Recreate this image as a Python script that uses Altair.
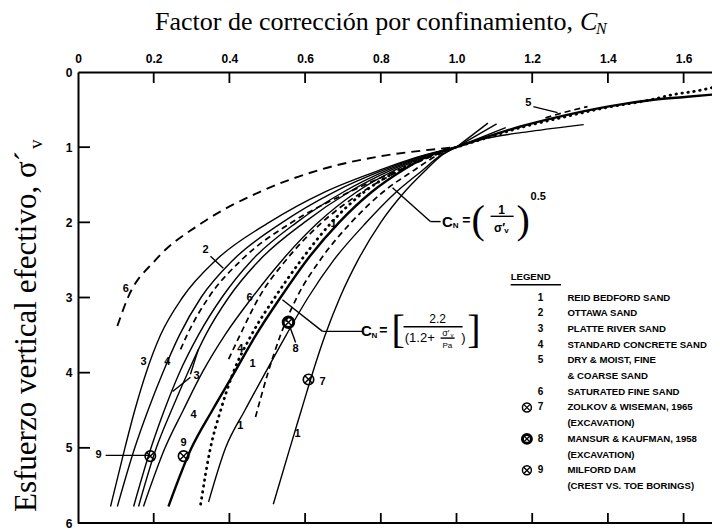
import altair as alt
import pandas as pd

W, H = 634, 451
XMAX = 1.675

# ---------------- curves: (C_N, sigma'_v) ----------------
cn_6 = [0.104, 0.132, 0.205, 0.330, 0.478, 0.640, 0.800, 0.920, 1.0]
sv_6 = [3.38, 3.00, 2.50, 2.00, 1.60, 1.30, 1.12, 1.04, 1.0]
cn_a = [0.086, 0.124, 0.150, 0.180, 0.218, 0.276, 0.365, 0.505, 0.650, 0.800, 0.905, 1.0]
sv_a = [5.78, 5.00, 4.50, 4.00, 3.50, 3.00, 2.50, 2.00, 1.60, 1.30, 1.12, 1.0]
cn_b = [0.104, 0.150, 0.185, 0.224, 0.268, 0.325, 0.410, 0.540, 0.675, 0.810, 0.910, 1.0]
sv_b = [5.78, 5.00, 4.50, 4.00, 3.50, 3.00, 2.50, 2.00, 1.60, 1.30, 1.12, 1.0]
cn_c = [0.147, 0.193, 0.228, 0.268, 0.318, 0.380, 0.460, 0.578, 0.700, 0.820, 0.915, 1.0]
sv_c = [5.78, 5.00, 4.50, 4.00, 3.50, 3.00, 2.50, 2.00, 1.60, 1.30, 1.12, 1.0]
cn_d = [0.160, 0.207, 0.247, 0.290, 0.337, 0.398, 0.480, 0.598, 0.715, 0.830, 0.918, 1.0]
sv_d = [5.78, 5.00, 4.50, 4.00, 3.50, 3.00, 2.50, 2.00, 1.60, 1.30, 1.12, 1.0]
cn_e = [0.173, 0.230, 0.278, 0.328, 0.388, 0.460, 0.540, 0.635, 0.735, 0.840, 0.922, 1.0]
sv_e = [5.78, 5.00, 4.50, 4.00, 3.50, 3.00, 2.50, 2.00, 1.60, 1.30, 1.12, 1.0]
cn_l = [0.271, 0.288, 0.345, 0.432, 0.565, 0.715, 0.850, 0.935, 1.0]
sv_l = [3.69, 3.50, 3.00, 2.50, 2.00, 1.60, 1.30, 1.12, 1.0]
cn_j = [0.398, 0.428, 0.478, 0.550, 0.645, 0.750, 0.855, 0.935, 1.0]
sv_j = [3.82, 3.50, 3.00, 2.50, 2.00, 1.60, 1.30, 1.12, 1.0]
cn_f = [0.239, 0.300, 0.355, 0.413, 0.470, 0.535, 0.605, 0.690, 0.775, 0.860, 0.925, 1.0]
sv_f = [5.78, 5.00, 4.50, 4.00, 3.50, 3.00, 2.50, 2.00, 1.60, 1.30, 1.12, 1.0]
cn_g = [0.324, 0.350, 0.377, 0.410, 0.458, 0.520, 0.590, 0.670, 0.755, 0.850, 0.925, 1.0,
        1.090, 1.169, 1.275, 1.399, 1.513, 1.573, 1.637, 1.690]
sv_g = [5.75, 5.00, 4.50, 4.00, 3.50, 3.00, 2.50, 2.00, 1.60, 1.30, 1.12, 1.0,
        0.86, 0.74, 0.61, 0.47, 0.37, 0.30, 0.25, 0.19]
cn_h = [0.345, 0.390, 0.441, 0.495, 0.550, 0.608, 0.676, 0.762, 0.840, 0.912, 0.955, 1.0]
sv_h = [5.72, 5.00, 4.50, 4.00, 3.50, 3.00, 2.50, 2.00, 1.60, 1.30, 1.12, 1.0]
cn_k = [0.469, 0.502, 0.535, 0.578, 0.640, 0.722, 0.805, 0.890, 0.945, 1.0]
sv_k = [4.59, 4.00, 3.50, 3.00, 2.50, 2.00, 1.60, 1.30, 1.12, 1.0]
cn_i = [0.516, 0.560, 0.590, 0.620, 0.653, 0.692, 0.740, 0.800, 0.862, 0.920, 0.958, 1.0]
sv_i = [5.75, 5.00, 4.50, 4.00, 3.50, 3.00, 2.50, 2.00, 1.60, 1.30, 1.12, 1.0]
cn_m = [1.0, 1.169, 1.275, 1.399, 1.521, 1.610, 1.676]
sv_m = [1.0, 0.725, 0.59, 0.46, 0.37, 0.33, 0.30]
cn_n = [1.0, 1.082, 1.196, 1.336]
sv_n = [1.0, 0.88, 0.79, 0.70]
cn_5 = [1.235, 1.275, 1.346]
sv_5 = [0.61, 0.55, 0.46]
cn_f1 = [1.0, 1.083]
sv_f1 = [1.0, 0.68]
cn_f2 = [1.0, 1.106]
sv_f2 = [1.0, 0.69]
cn_f3 = [1.0, 1.130]
sv_f3 = [1.0, 0.74]

curves = [
    ("s6", cn_6, sv_6, "dash6"), ("a", cn_a, sv_a, "solid"), ("b", cn_b, sv_b, "solid"),
    ("c", cn_c, sv_c, "solid"), ("d", cn_d, sv_d, "solid"), ("e", cn_e, sv_e, "solid"),
    ("l", cn_l, sv_l, "dash"), ("j", cn_j, sv_j, "dash"), ("f", cn_f, sv_f, "thick"),
    ("g", cn_g, sv_g, "dot"), ("h", cn_h, sv_h, "solid"), ("k", cn_k, sv_k, "dash"),
    ("i", cn_i, sv_i, "solid"), ("m", cn_m, sv_m, "thick"), ("n", cn_n, sv_n, "solid"),
    ("d5", cn_5, sv_5, "dash"), ("f1", cn_f1, sv_f1, "solid"), ("f2", cn_f2, sv_f2, "solid"),
    ("f3", cn_f3, sv_f3, "solid"),
]

# measured points (circled crosses)
pt_cn = [0.609, 0.556, 0.191, 0.279]
pt_sv = [4.09, 3.33, 5.11, 5.11]
pt_id = ["7", "8", "9", "9"]

# curve labels on the plot
lab_txt = ["6", "2", "6", "1", "3", "4", "3", "4", "4", "1", "1", "1", "7", "8", "9", "9", "5"]
lab_cn = [0.126, 0.337, 0.453, 0.675, 0.173, 0.236, 0.313, 0.305, 0.429, 0.461, 0.429, 0.580,
          0.646, 0.575, 0.279, 0.054, 1.190]
lab_sv = [2.89, 2.37, 3.00, 2.02, 3.86, 3.86, 4.05, 4.56, 3.69, 3.89, 4.71, 4.82,
          4.12, 3.69, 4.94, 5.09, 0.41]

# legend
leg_num = ["1", "2", "3", "4", "5", "6", "7", "8", "9"]
leg_txt = [["REID BEDFORD SAND"], ["OTTAWA SAND"], ["PLATTE RIVER SAND"],
           ["STANDARD CONCRETE SAND"], ["DRY & MOIST, FINE", "& COARSE SAND"],
           ["SATURATED FINE SAND"], ["ZOLKOV & WISEMAN, 1965", "(EXCAVATION)"],
           ["MANSUR & KAUFMAN, 1958", "(EXCAVATION)"], ["MILFORD DAM", "(CREST VS. TOE BORINGS)"]]
leg_marker = [False, False, False, False, False, False, True, True, True]

x_ticks = [0, 0.2, 0.4, 0.6, 0.8, 1.0, 1.2, 1.4, 1.6]
y_ticks = [0, 1, 2, 3, 4, 5, 6]

# ---------------- tables ----------------
rows = []
for name, xs_, ys_, style in curves:
    for i, (a, b) in enumerate(zip(xs_, ys_)):
        rows.append({"curve": name, "i": i, "cn": a, "sv": b, "style": style})
df = pd.DataFrame(rows)

xsc = alt.Scale(domain=[0, XMAX], nice=False, zero=False)
ysc = alt.Scale(domain=[0, 6], reverse=True, nice=False, zero=False)
FONT = "Liberation Sans"
xaxis = alt.Axis(orient="top", values=x_ticks, title=None, ticks=False, grid=False,
                 labelExpr="datum.value == 0 ? '0' : format(datum.value, '.1f')",
                 labelFont=FONT, labelFontWeight="bold", labelFontSize=12, labelColor="black",
                 labelPadding=7, labelFlush=False, labelOverlap=False,
                 domainColor="black", domainWidth=2)
yaxis = alt.Axis(orient="left", values=y_ticks, title=None, ticks=False, grid=False, format="d",
                 labelFont=FONT, labelFontWeight="bold", labelFontSize=12, labelColor="black",
                 labelPadding=6, labelFlush=False, labelOverlap=False,
                 domainColor="black", domainWidth=2)


def X(f):
    return alt.X(f, scale=xsc, axis=xaxis)


def Y(f):
    return alt.Y(f, scale=ysc, axis=yaxis)


def lines(style, **kw):
    return alt.Chart(df).transform_filter(alt.datum.style == style).mark_line(
        color="black", clip=True, interpolate="monotone", **kw).encode(
        x=X("cn:Q"), y=Y("sv:Q"), detail="curve:N", order="i:Q")


layers = [
    lines("solid", strokeWidth=1.4),
    lines("thick", strokeWidth=2.4),
    lines("dash6", strokeWidth=1.9, strokeDash=[9, 6]),
    lines("dash", strokeWidth=1.7, strokeDash=[6, 4]),
    lines("dot", strokeWidth=2.8, strokeDash=[0.5, 5.5], strokeCap="round"),
]

# frame: bottom line and inward ticks
frame = alt.Chart(pd.DataFrame({"a": [0]}))
layers.append(frame.mark_rule(color="black", strokeWidth=2).encode(
    x=alt.value(0), x2=alt.value(W), y=alt.value(H)))
xt = pd.DataFrame({"cn": x_ticks[1:]})
layers.append(alt.Chart(xt).mark_rule(color="black", strokeWidth=1.8).encode(
    x=X("cn:Q"), y=alt.value(0), y2=alt.value(11)))
layers.append(alt.Chart(xt).mark_rule(color="black", strokeWidth=1.8).encode(
    x=X("cn:Q"), y=alt.value(H), y2=alt.value(H - 10)))
yt = pd.DataFrame({"sv": y_ticks[1:-1]})
layers.append(alt.Chart(yt).mark_rule(color="black", strokeWidth=1.8).encode(
    y=Y("sv:Q"), x=alt.value(0), x2=alt.value(12)))

# points
pts = pd.DataFrame({"cn": pt_cn, "sv": pt_sv, "id": pt_id})
CROSS = "M-0.7,-0.7L0.7,0.7M-0.7,0.7L0.7,-0.7"
layers.append(alt.Chart(pts).mark_point(shape="circle", size=110, filled=False, color="black",
                                        opacity=1).encode(
    x=X("cn:Q"), y=Y("sv:Q"),
    strokeWidth=alt.condition(alt.datum.id == "8", alt.value(3), alt.value(1.6))))
layers.append(alt.Chart(pts).mark_point(shape=CROSS, size=110, filled=False, color="black",
                                        strokeWidth=1.4, opacity=1).encode(x=X("cn:Q"), y=Y("sv:Q")))

# curve labels
labs = pd.DataFrame({"t": lab_txt, "cn": lab_cn, "sv": lab_sv})
layers.append(alt.Chart(labs).mark_text(font=FONT, fontWeight="bold", fontSize=11,
                                        color="black", fill="black").encode(
    x=X("cn:Q"), y=Y("sv:Q"), text="t:N"))

# pointer lines and fraction bars (data units)
seg = pd.DataFrame({
    "x": [0.831, 0.931, 0.540, 0.646, 0.350, 0.073, 0.559, 1.203, 0.297, 0.297,
          1.090, 0.860, 0.958, 1.143],
    "y": [1.54, 1.99, 3.03, 3.45, 2.45, 5.10, 3.38, 0.46, 4.02, 4.06,
          1.92, 3.39, 3.54, 2.83],
    "x2": [0.931, 0.958, 0.646, 0.751, 0.384, 0.192, 0.575, 1.267, 0.318, 0.250,
           1.151, 1.016, 0.995, 1.276],
    "y2": [1.99, 1.99, 3.45, 3.45, 2.61, 5.10, 3.60, 0.54, 3.69, 4.25,
           1.92, 3.39, 3.54, 2.83],
})
layers.append(alt.Chart(seg).mark_rule(color="black", strokeWidth=1.4).encode(
    x=X("x:Q"), y=Y("y:Q"), x2="x2:Q", y2="y2:Q"))

# formula texts (bold pieces)
form_b = pd.DataFrame({
    "t": ["C", "N", "=", "1", "σ′", "v", "0.5", "C", "N", "="],
    "cn": [0.976, 0.998, 1.026, 1.119, 1.114, 1.132, 1.216, 0.762, 0.783, 0.807],
    "sv": [1.99, 2.05, 1.98, 1.83, 2.08, 2.12, 1.66, 3.45, 3.51, 3.44],
    "fs": [15, 8, 14, 12, 12, 8, 11, 15, 8, 14],
})
layers.append(alt.Chart(form_b).mark_text(font=FONT, fontWeight="bold", color="black",
                                          baseline="middle").encode(
    x=X("cn:Q"), y=Y("sv:Q"), text="t:N", size=alt.Size("fs:Q", scale=None)))
# formula texts (regular pieces)
form_r = pd.DataFrame({
    "t": ["2.2", "(1.2+", "σ′", "v", "Pa", ")"],
    "cn": [0.950, 0.903, 0.972, 0.988, 0.976, 1.018],
    "sv": [3.29, 3.54, 3.47, 3.50, 3.65, 3.54],
    "fs": [12, 13, 9, 6, 8, 13],
})
layers.append(alt.Chart(form_r).mark_text(font=FONT, color="black", baseline="middle").encode(
    x=X("cn:Q"), y=Y("sv:Q"), text="t:N", size=alt.Size("fs:Q", scale=None)))
brk = pd.DataFrame({"t": ["(", ")", "[", "]"], "cn": [1.057, 1.176, 0.846, 1.046],
                    "sv": [1.98, 1.98, 3.44, 3.44]})
layers.append(alt.Chart(brk).mark_text(font="Liberation Serif", fontSize=40, color="black",
                                       baseline="middle").encode(
    x=X("cn:Q"), y=Y("sv:Q"), text="t:N"))

# legend
LY0, LSTEP = 3.00, 0.209
leg_rows, leg_n, leg_m = [], [], []
line = 0
for k, (n, tx, mk) in enumerate(zip(leg_num, leg_txt, leg_marker)):
    leg_n.append({"t": n, "cn": 1.222, "sv": LY0 + line * LSTEP})
    if mk:
        leg_m.append({"cn": 1.186, "sv": LY0 + line * LSTEP, "id": n})
    for t in tx:
        leg_rows.append({"t": t, "cn": 1.293, "sv": LY0 + line * LSTEP})
        line += 1
leg_rows.append({"t": "LEGEND", "cn": 1.143, "sv": 2.73})
layers.append(alt.Chart(pd.DataFrame(leg_rows)).mark_text(
    font=FONT, fontWeight="bold", fontSize=9.6, align="left", color="black").encode(
    x=X("cn:Q"), y=Y("sv:Q"), text="t:N"))
layers.append(alt.Chart(pd.DataFrame(leg_n)).mark_text(
    font=FONT, fontWeight="bold", fontSize=10, color="black").encode(
    x=X("cn:Q"), y=Y("sv:Q"), text="t:N"))
lm = pd.DataFrame(leg_m)
layers.append(alt.Chart(lm).mark_point(shape="circle", size=80, filled=False, color="black", opacity=1).encode(
    x=X("cn:Q"), y=Y("sv:Q"),
    strokeWidth=alt.condition(alt.datum.id == "8", alt.value(3), alt.value(1.5))))
layers.append(alt.Chart(lm).mark_point(shape=CROSS, size=80, filled=False, color="black",
                                       strokeWidth=1.3, opacity=1).encode(x=X("cn:Q"), y=Y("sv:Q")))

# titles (outside the plot, pixel offsets)
SERIF = "Liberation Serif"
ttl = alt.Chart(pd.DataFrame({"a": [0]}))
layers.append(ttl.mark_text(text="Factor de corrección por confinamiento,", font=SERIF, fontSize=26,
                            align="right", baseline="alphabetic", color="black").encode(
    x=alt.value(495), y=alt.value(-42)))
layers.append(ttl.mark_text(text="C", font=SERIF, fontSize=26, fontStyle="italic",
                            align="left", baseline="alphabetic", color="black").encode(
    x=alt.value(502), y=alt.value(-42)))
layers.append(ttl.mark_text(text="N", font=SERIF, fontSize=16, fontStyle="italic",
                            align="left", baseline="alphabetic", color="black").encode(
    x=alt.value(518), y=alt.value(-38)))
layers.append(ttl.mark_text(text="Esfuerzo vertical efectivo, σ´", font=SERIF, fontSize=31, angle=270,
                            align="right", baseline="alphabetic", color="black").encode(
    x=alt.value(-42), y=alt.value(79)))
layers.append(ttl.mark_text(text="v", font=SERIF, fontSize=19, angle=270,
                            align="left", baseline="alphabetic", color="black").encode(
    x=alt.value(-36), y=alt.value(77)))

chart = alt.layer(*layers).properties(
    width=W, height=H,
    autosize=alt.AutoSizeParams(type="none"),
    padding={"left": 70, "top": 64, "right": 0, "bottom": 8},
    background="white",
).configure_view(stroke=None)

chart.save("out.html", embed_options={"renderer": "svg", "actions": False})
